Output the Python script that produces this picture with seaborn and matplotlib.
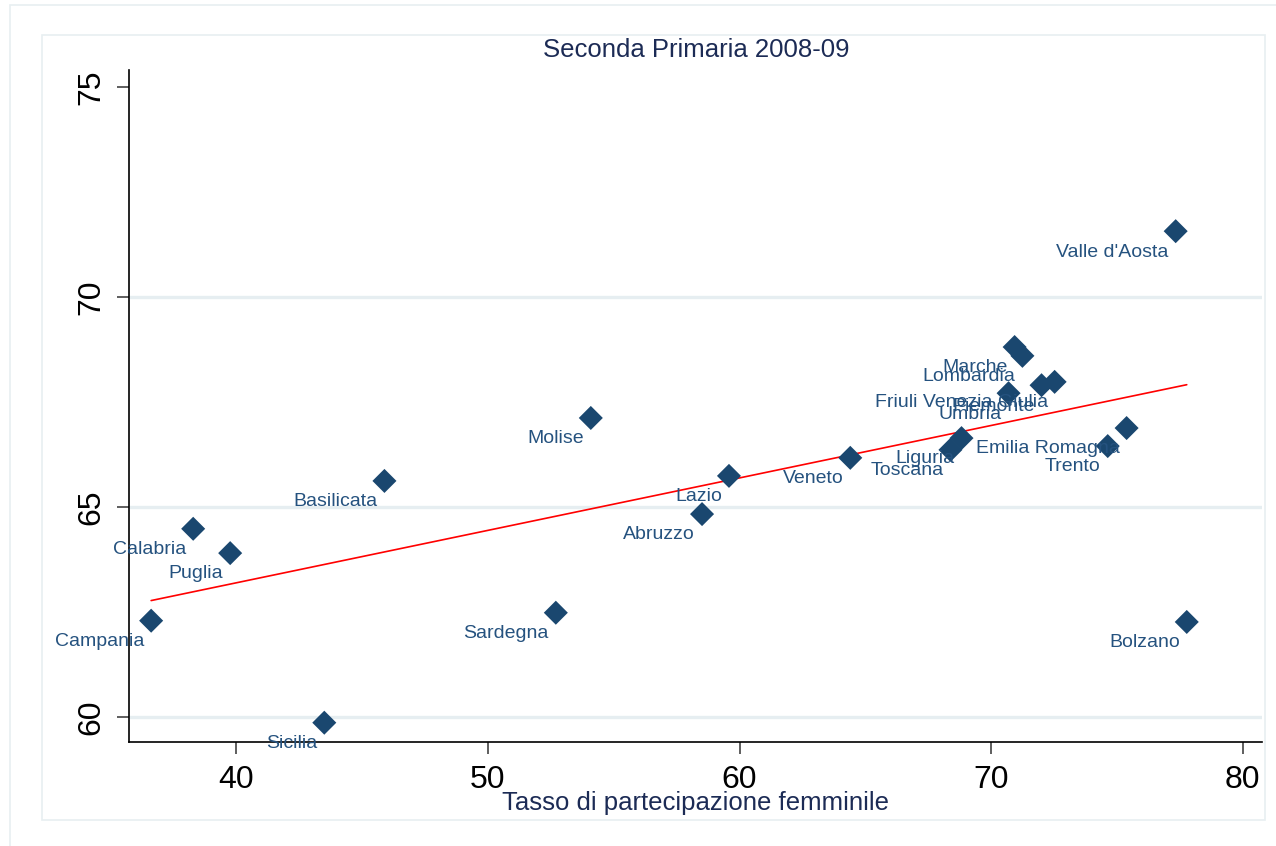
import matplotlib
matplotlib.use("Agg")
import matplotlib.pyplot as plt
from matplotlib.patches import Rectangle
import seaborn as sns
import pandas as pd

# Female labour participation rate vs. 2nd-grade primary score, by region
regions = [
    "Campania", "Calabria", "Puglia", "Sicilia", "Basilicata", "Sardegna",
    "Molise", "Abruzzo", "Lazio", "Veneto", "Toscana", "Liguria", "Umbria",
    "Piemonte", "Friuli Venezia Giulia", "Lombardia", "Marche",
    "Emilia Romagna", "Trento", "Valle d'Aosta", "Bolzano",
]
participation = [
    36.62, 38.29, 39.76, 43.50, 45.89, 52.70,
    54.09, 58.51, 59.58, 64.40, 68.38, 68.82, 70.69,
    72.00, 72.52, 71.24, 70.93,
    75.38, 74.63, 77.33, 77.77,
]
score = [
    62.29, 64.48, 63.90, 59.86, 65.62, 62.48,
    67.12, 64.83, 65.74, 66.17, 66.36, 66.64, 67.71,
    67.90, 67.98, 68.60, 68.81,
    66.88, 66.45, 71.57, 62.26,
]
x_ticks = [40, 50, 60, 70, 80]
y_ticks = [60, 65, 70, 75]
grid_lines = [60, 65, 70]
title = "Seconda Primaria 2008-09"
x_title = "Tasso di partecipazione femminile"

df = pd.DataFrame({"region": regions, "x": participation, "y": score})

sns.set_theme(style="white")
plt.rcParams["font.family"] = ["Liberation Sans", "DejaVu Sans"]

W, H = 1276, 846
fig = plt.figure(figsize=(W / 100, H / 100), dpi=100)
fig.patch.set_facecolor("white")

# Outer and inner frames (pixel coords -> figure fraction)
def frame(x0, y0, x1, y1, color):
    fig.patches.append(Rectangle((x0 / W, 1 - y1 / H), (x1 - x0) / W, (y1 - y0) / H,
                                 transform=fig.transFigure, fill=False,
                                 edgecolor=color, linewidth=1.2, zorder=0))

frame(10, 5, 1290, 860, "#e8eff1")
frame(42, 35, 1265, 820, "#e8eff1")

ax = fig.add_axes([129 / W, 1 - 742 / H, (1262 - 129) / W, (742 - 70) / H])
ax.set_facecolor("white")

navy = "#1a476f"
for yt in grid_lines:
    ax.axhline(yt, color="#e6eef1", linewidth=2.4, zorder=0)

sns.regplot(data=df, x="x", y="y", ci=None, scatter=False, ax=ax,
            line_kws=dict(color="red", linewidth=1.2, zorder=2))
sns.scatterplot(data=df, x="x", y="y", marker="D", s=150, color=navy,
                edgecolor="none", linewidth=0, ax=ax, zorder=3)

for r, xv, yv in zip(regions, participation, score):
    ax.annotate(r, (xv, yv), xytext=(-5, -15), textcoords="offset points",
                ha="right", va="center", fontsize=14, color="#25527f",
                annotation_clip=False, zorder=4)

ax.set_xlim(35.74, 80.76)
ax.set_ylim(59.40, 75.41)
ax.set_xticks(x_ticks)
ax.set_yticks(y_ticks)
ax.set_xticklabels([str(t) for t in x_ticks], fontsize=23, color="black")
ax.set_yticklabels([str(t) for t in y_ticks], fontsize=23, color="black",
                   rotation=90, va="center")
ax.tick_params(axis="both", direction="out", length=8.5, width=1.1,
               color="#333333", bottom=True, left=True, pad=8)

for side in ["top", "right"]:
    ax.spines[side].set_visible(False)
for side in ["left", "bottom"]:
    ax.spines[side].set_color("black")
    ax.spines[side].set_linewidth(1.2)

ax.set_xlabel("")
ax.set_ylabel("")
fig.text(696 / W, 1 - 50 / H, title, ha="center", va="center",
         fontsize=18.5, color="#1c2b55")
fig.text(696 / W, 1 - 803 / H, x_title, ha="center", va="center",
         fontsize=18.5, color="#1c2b55")

fig.savefig("out.png", dpi=100, facecolor="white")
